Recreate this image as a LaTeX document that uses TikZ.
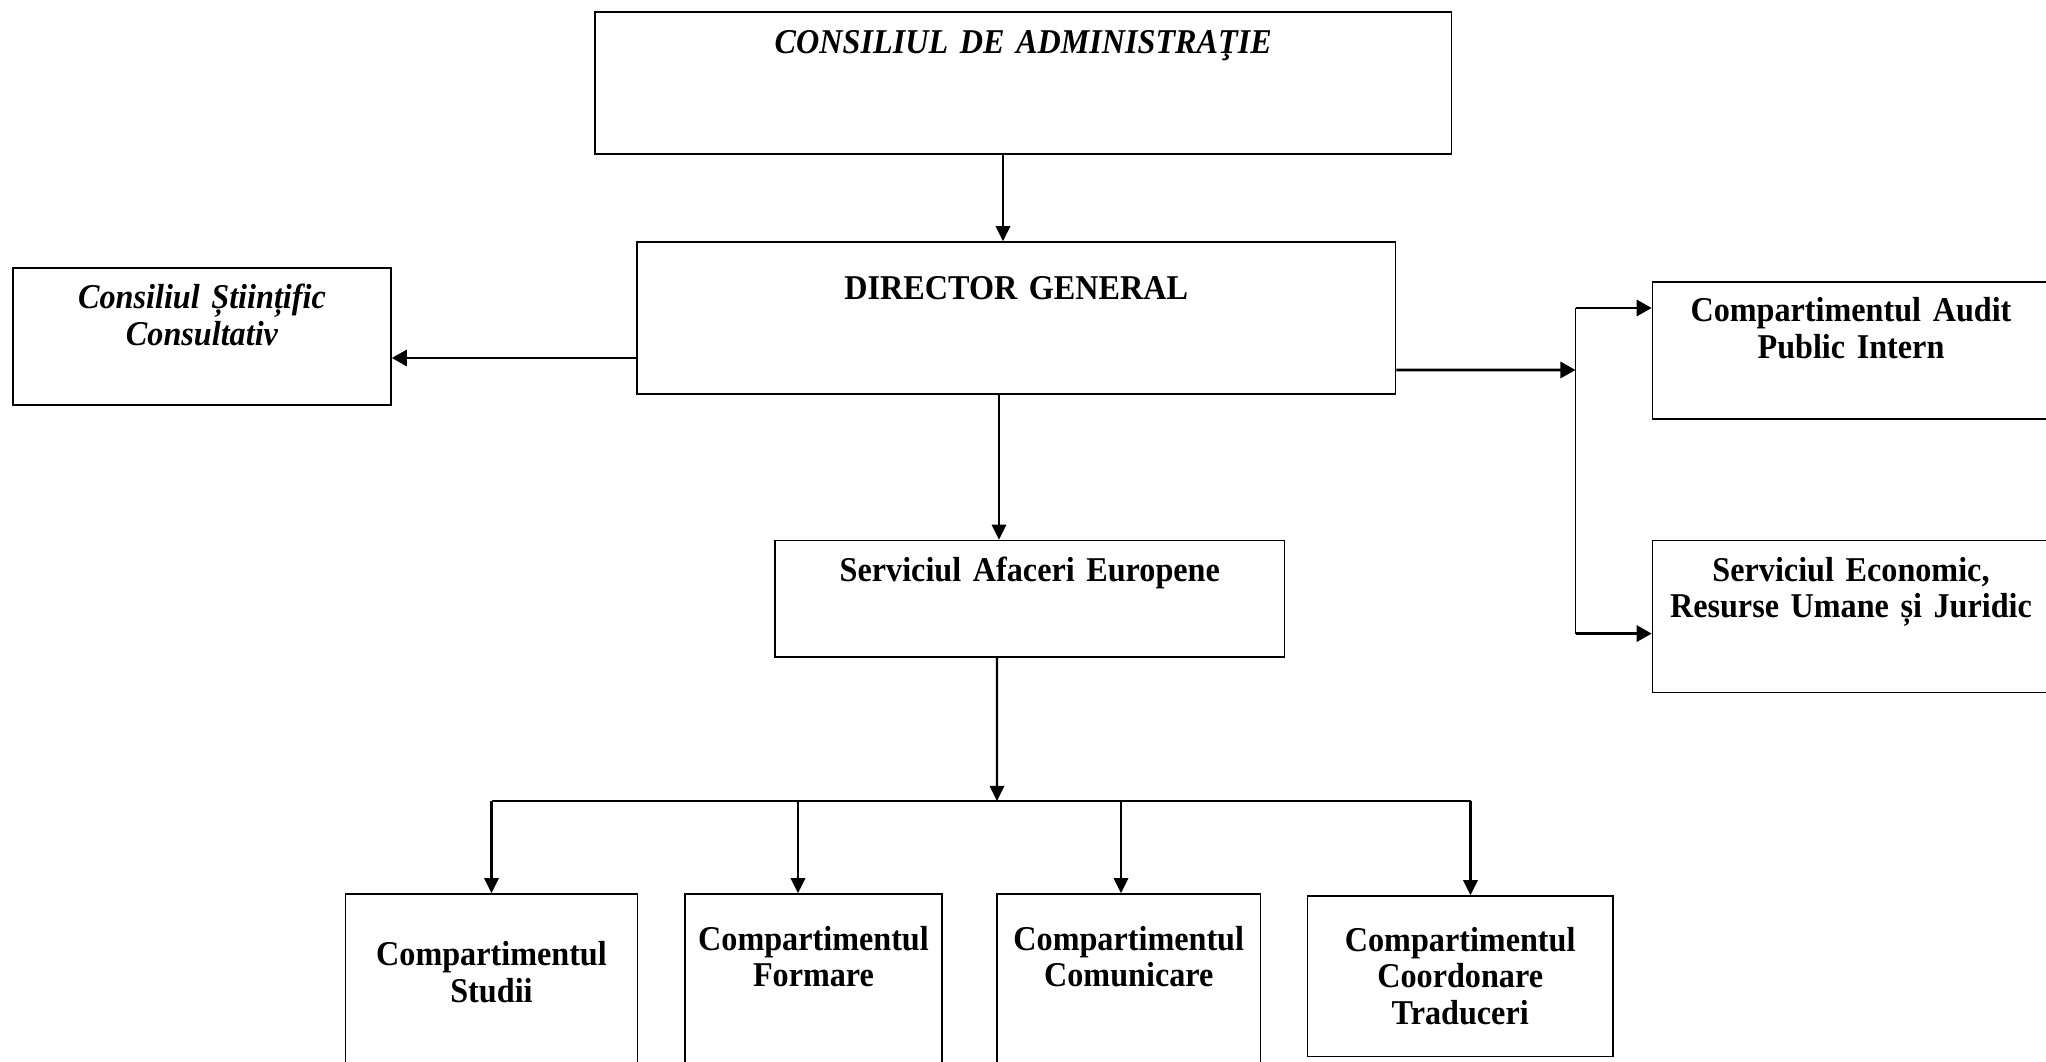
\documentclass[tikz,border=0pt]{standalone}
\usepackage{fontspec}
\setmainfont{Liberation Serif}[FakeStretch=0.925, WordSpace=0.85]
\usetikzlibrary{arrows.meta}
\tikzstyle{unit} = [rectangle, draw=black, line width=0.45pt, inner sep=0pt, text centered, font=\fontsize{9.9pt}{10.4pt}\selectfont\bfseries]
\tikzstyle{council} = [unit, font=\fontsize{9.9pt}{10.4pt}\selectfont\bfseries\itshape]
\tikzstyle{arrow} = [line width=0.6pt,-{Triangle[length=4.3pt,width=4.1pt]}]
\tikzstyle{thickarrow} = [line width=0.8pt,-{Triangle[length=4.3pt,width=4.6pt]}]
\tikzstyle{bar} = [line width=0.55pt]

\begin{document}
\begin{tikzpicture}[node distance=2.5cm]
\useasboundingbox (0,0) rectangle (20.46,-10.62);

\node [council, text width=8.566cm, text height=0.415cm, text depth=1.005cm] (admin) at (10.233,-0.83) {CONSILIUL DE ADMINISTRAŢIE};
\node [unit, below of=admin, xshift=-0.07cm, yshift=0.15cm, text width=7.585cm, text height=0.577cm, text depth=0.943cm] (director) {DIRECTOR GENERAL};
\node [council, left of=director, xshift=-5.643cm, yshift=-0.185cm, text width=3.78cm, text height=0.408cm, text depth=0.962cm] (stiintific) {Consiliul Științific\\Consultativ};
\node [unit, right of=director, xshift=5.847cm, yshift=-0.325cm, text width=3.97cm, text height=0.397cm, text depth=0.973cm] (audit) {Compartimentul Audit\\Public Intern};
\node [unit, below of=audit, yshift=-0.16cm, text width=3.97cm, text height=0.405cm, text depth=1.115cm] (economic) {Serviciul Economic,\\Resurse Umane și Juridic};

\node [unit, below of=director, xshift=0.135cm, yshift=-0.308cm, text width=5.096cm, text height=0.405cm, text depth=0.76cm] (afaceri) {Serviciul Afaceri Europene};
\node [unit, below of=afaceri, xshift=-5.383cm, yshift=-1.482cm, text width=2.916cm, text height=0.715cm, text depth=1.345cm] (studii) {Compartimentul\\Studii};
\node [unit, right of=studii, xshift=0.72cm, text width=2.57cm, text height=0.56cm, text depth=1.5cm] (formare) {Compartimentul\\Formare};
\node [unit, right of=formare, xshift=0.6525cm, text width=2.635cm, text height=0.56cm, text depth=1.5cm] (comunicare) {Compartimentul\\Comunicare};
\node [unit, right of=comunicare, xshift=0.8145cm, yshift=0.207cm, text width=3.056cm, text height=0.55cm, text depth=1.056cm] (traduceri) {Compartimentul\\Coordonare\\Traduceri};

\coordinate (fork) at (15.755,-3.70);
\coordinate (hub) at (9.97,-8.01);

\draw [arrow] ([xshift=-0.203cm]admin.south) -- ([xshift=-0.203cm]admin.south |- director.north);
\draw [thickarrow] ([yshift=-0.4cm]director.west) -- ([yshift=-0.4cm]director.west -| stiintific.east);
\draw [thickarrow] ([yshift=-0.52cm]director.east) -- (fork);
\draw [bar] ([yshift=0.425cm]audit.west -| fork) -- ([yshift=-0.171cm]economic.west -| fork);
\draw [thickarrow] ([yshift=0.425cm]audit.west -| fork) -- ([yshift=0.425cm]audit.west);
\draw [thickarrow] ([yshift=-0.171cm]economic.west -| fork) -- ([yshift=-0.171cm]economic.west);
\draw [arrow] ([xshift=-0.173cm]director.south) -- ([xshift=-0.173cm]director.south |- afaceri.north);
\draw [arrow] ([xshift=-0.328cm]afaceri.south) -- (hub);
\draw [bar] (hub -| studii.north) -- ([xshift=0.103cm]traduceri.north |- hub);
\draw [arrow] (hub -| studii.north) -- (studii.north);
\draw [arrow] ([xshift=-0.155cm]formare.north |- hub) -- ([xshift=-0.155cm]formare.north);
\draw [arrow] ([xshift=-0.078cm]comunicare.north |- hub) -- ([xshift=-0.078cm]comunicare.north);
\draw [arrow] ([xshift=0.103cm]traduceri.north |- hub) -- ([xshift=0.103cm]traduceri.north);

\end{tikzpicture}
\end{document}
